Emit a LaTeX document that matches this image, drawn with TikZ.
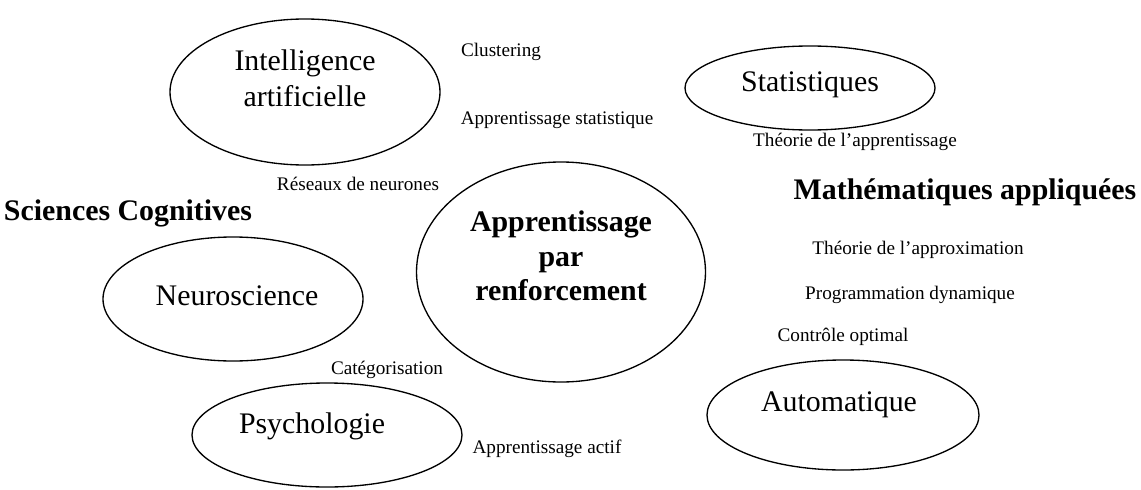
\documentclass[tikz,border=0pt]{standalone}
\usepackage{fontspec}
\setmainfont{Liberation Serif}
\usetikzlibrary{shapes.geometric}
\begin{document}
\begin{tikzpicture}[x=0.75pt,y=-0.75pt,
  areabox/.style={ellipse,draw,line width=1pt,inner sep=0pt},
  areatext/.style={font=\fontsize{22.4}{27}\selectfont,align=center,inner sep=0pt},
  coretext/.style={font=\fontsize{22.4}{26}\selectfont\bfseries,align=center,inner sep=0pt},
  fieldtext/.style={font=\fontsize{22.4}{25}\selectfont\bfseries,inner sep=0pt},
  topictext/.style={font=\fontsize{14.4}{16}\selectfont,inner sep=0pt}]
\useasboundingbox (0,0) rectangle (1141,489);

% areas of study (sizes in pt, 0.75pt per unit)
\node[areabox,minimum width=202.5pt,minimum height=109.5pt] (ia) at (305,92) {};
\node[areatext] (iaT) at (305,78) {Intelligence\\artificielle};
\node[areabox,minimum width=187.5pt,minimum height=63pt] (stat) at (810,88) {};
\node[areatext] (statT) at (810,85) {Statistiques};
\node[areabox,minimum width=216.75pt,minimum height=165pt] (rl) at (561,272) {};
\node[coretext] (rlT) at (561,256) {Apprentissage\\par\\renforcement};
\node[areabox,minimum width=195pt,minimum height=93pt] (neuro) at (233,299) {};
\node[areatext] (neuroT) at (237,296) {Neuroscience};
\node[areabox,minimum width=202.5pt,minimum height=78pt] (psy) at (327,435) {};
\node[areatext] (psyT) at (312,426) {Psychologie};
\node[areabox,minimum width=204pt,minimum height=82.5pt] (auto) at (843,415) {};
\node[areatext] (autoT) at (839,405) {Automatique};

% broad fields
\node[fieldtext] (cog) at (128,213) {Sciences Cognitives};
\node[fieldtext] (math) at (965,192) {Mathématiques appliquées};

% topics
\node[topictext] (clus) at (501,52) {Clustering};
\node[topictext] (appstat) at (557,120) {Apprentissage statistique};
\node[topictext] (theoapp) at (855,142) {Théorie de l’apprentissage};
\node[topictext] (reseaux) at (358,184) {Réseaux de neurones};
\node[topictext] (theoapprox) at (918,250) {Théorie de l’approximation};
\node[topictext] (progdyn) at (910,295) {Programmation dynamique};
\node[topictext] (ctrl) at (843,337) {Contrôle optimal};
\node[topictext] (categ) at (387,370) {Catégorisation};
\node[topictext] (actif) at (547,449) {Apprentissage actif};
\end{tikzpicture}
\end{document}
